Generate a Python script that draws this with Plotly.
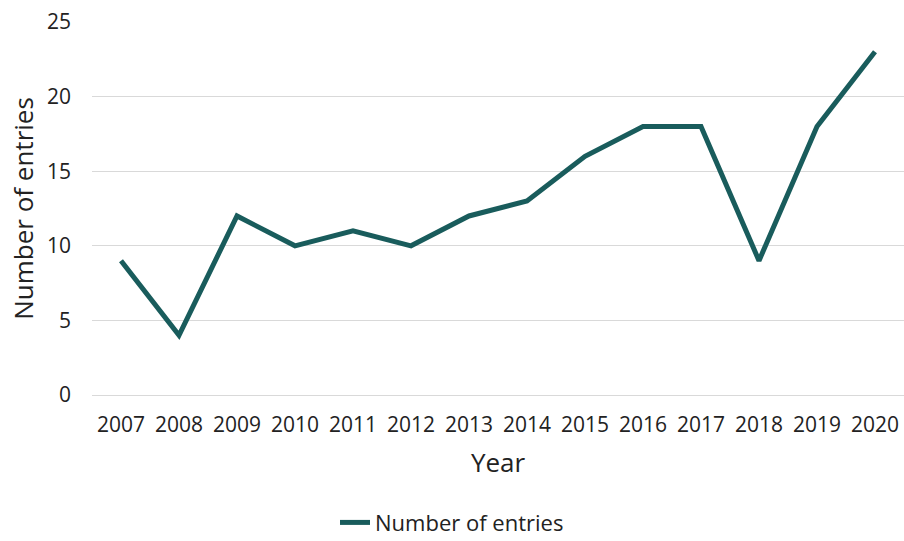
import plotly.graph_objects as go

years = ["2007", "2008", "2009", "2010", "2011", "2012", "2013", "2014",
         "2015", "2016", "2017", "2018", "2019", "2020"]
entries = [9, 4, 12, 10, 11, 10, 12, 13, 16, 18, 18, 9, 18, 23]
y_ticks = [0, 5, 10, 15, 20, 25]

FONT = "Open Sans, DejaVu Sans, sans-serif"
LINE_COLOR = "#195c5c"
TEXT = "#222222"

fig = go.Figure()
fig.add_trace(go.Scatter(
    x=years, y=entries, mode="lines", name="Number of entries",
    line=dict(color=LINE_COLOR, width=5),
))

fig.update_layout(
    width=904, height=541,
    margin=dict(l=92, r=0, t=22, b=146, autoexpand=False),
    paper_bgcolor="white", plot_bgcolor="white",
    font=dict(family=FONT, size=21, color=TEXT),
    showlegend=True,
    legend=dict(orientation="h", xref="container", x=0.5, xanchor="center",
                yref="container", y=0.034, yanchor="middle",
                font=dict(size=22, color=TEXT)),
    xaxis=dict(
        type="category", range=[-0.5, 13.5], showgrid=False, showline=False, ticks="",
        ticklabelstandoff=15, automargin=False,
        title=dict(text="Year", font=dict(size=26, color=TEXT), standoff=16),
        tickfont=dict(size=21),
    ),
    yaxis=dict(
        range=[0, 25], tickvals=y_ticks, showgrid=True, gridcolor="#d9d9d9",
        gridwidth=1, zeroline=True, zerolinecolor="#d9d9d9", zerolinewidth=1,
        showline=False, ticks="", ticklabelstandoff=20, automargin=False,
        title=dict(text="Number of entries", font=dict(size=26, color=TEXT), standoff=5),
        tickfont=dict(size=21),
    ),
)

fig.write_html("out.html", config={"displayModeBar": False},
               post_script="document.body.style.margin='0';")
